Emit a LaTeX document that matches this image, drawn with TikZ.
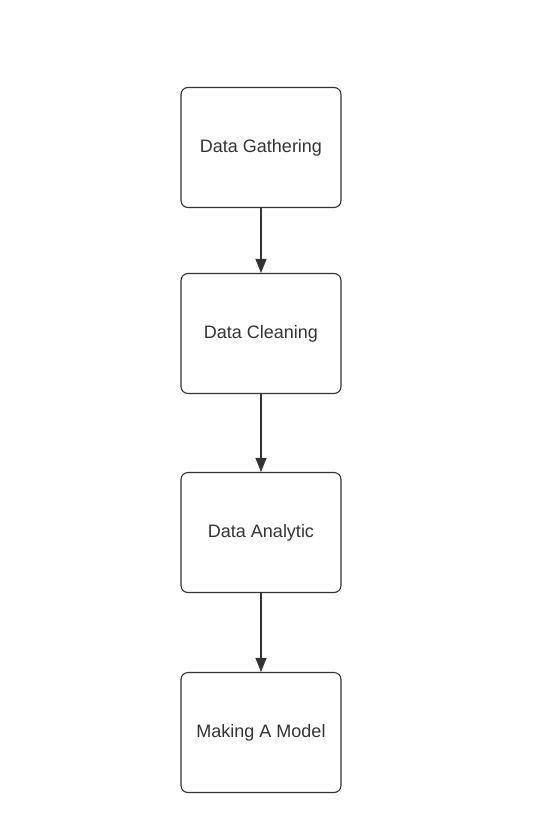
\documentclass[tikz,border=0pt]{standalone}
\usepackage{fontspec}
\setmainfont{Liberation Sans}
\usetikzlibrary{arrows.meta}
\definecolor{linegray}{HTML}{333333}
\tikzset{
  stagebox/.style={draw=linegray, line width=1.1pt, rounded corners=7pt, minimum width=160pt, minimum height=120pt, inner sep=0pt, text=linegray, font=\fontsize{18}{22}\selectfont},
  flowarrow/.style={draw=linegray, line width=1.1pt, -{Triangle[length=14pt, width=11pt]}}
}
\begin{document}
\begin{tikzpicture}[x=1pt, y=-1pt]
%frame
	\useasboundingbox (0,0) rectangle (547,833);

%stages
	\foreach \yy/ \name/ \txt in {147.5/gather/Data Gathering, 333.5/clean/Data Cleaning, 532.5/analytic/Data Analytic, 732.5/model/Making A Model}{
		\node[stagebox] (\name) at (261, \yy) {\txt};
	}

%arrows
	\draw[flowarrow] (gather) -- (clean);
	\draw[flowarrow] (clean) -- (analytic);
	\draw[flowarrow] (analytic) -- (model);

\end{tikzpicture}
\end{document}
